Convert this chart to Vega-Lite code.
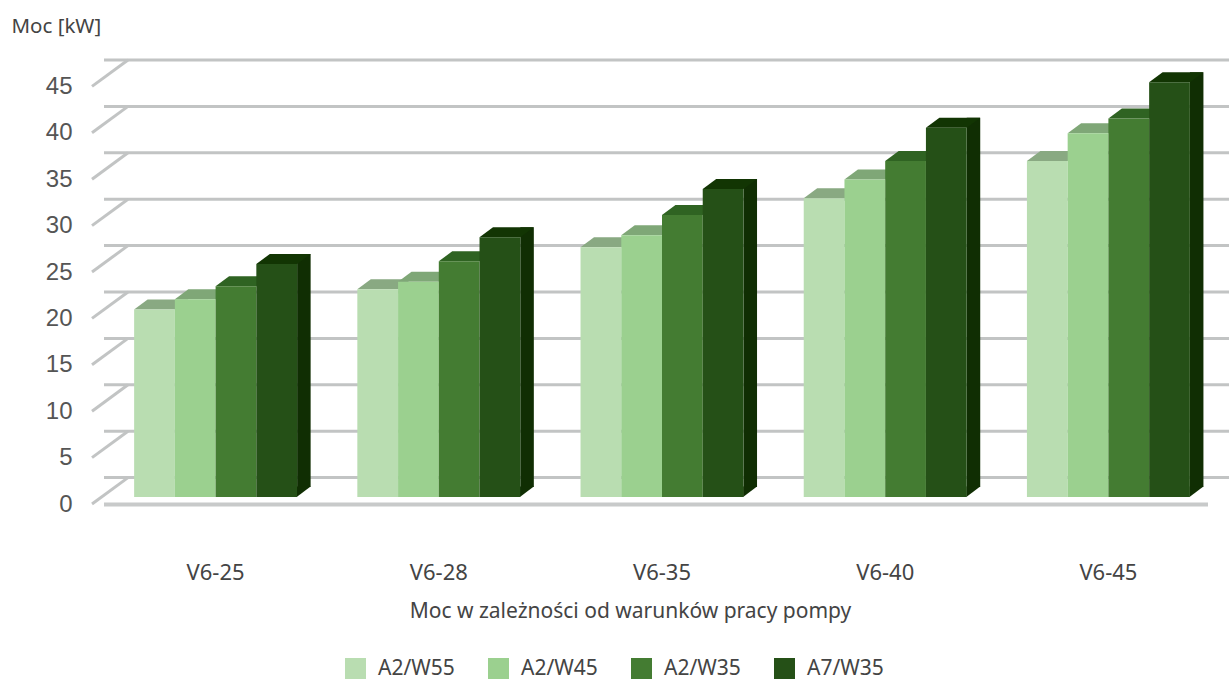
{
  "$schema": "https://vega.github.io/schema/vega-lite/v6.json",
  "width": 1116,
  "height": 464,
  "autosize": {"type": "none"},
  "padding": {"left": 104, "top": 33, "right": 9, "bottom": 184},
  "background": "white",
  "datasets": {
    "bars": [
      {"model": "V6-25", "series": "A2/W55", "power": 20.2},
      {"model": "V6-25", "series": "A2/W45", "power": 21.3},
      {"model": "V6-25", "series": "A2/W35", "power": 22.7},
      {"model": "V6-25", "series": "A7/W35", "power": 25.1},
      {"model": "V6-28", "series": "A2/W55", "power": 22.4},
      {"model": "V6-28", "series": "A2/W45", "power": 23.2},
      {"model": "V6-28", "series": "A2/W35", "power": 25.4},
      {"model": "V6-28", "series": "A7/W35", "power": 28.0},
      {"model": "V6-35", "series": "A2/W55", "power": 26.9},
      {"model": "V6-35", "series": "A2/W45", "power": 28.2},
      {"model": "V6-35", "series": "A2/W35", "power": 30.4},
      {"model": "V6-35", "series": "A7/W35", "power": 33.2},
      {"model": "V6-40", "series": "A2/W55", "power": 32.2},
      {"model": "V6-40", "series": "A2/W45", "power": 34.2},
      {"model": "V6-40", "series": "A2/W35", "power": 36.2},
      {"model": "V6-40", "series": "A7/W35", "power": 39.8},
      {"model": "V6-45", "series": "A2/W55", "power": 36.2},
      {"model": "V6-45", "series": "A2/W45", "power": 39.2},
      {"model": "V6-45", "series": "A2/W35", "power": 40.8},
      {"model": "V6-45", "series": "A7/W35", "power": 44.7}
    ],
    "levels": [
      {"level": 0}, {"level": 5}, {"level": 10}, {"level": 15}, {"level": 20},
      {"level": 25}, {"level": 30}, {"level": 35}, {"level": 40}, {"level": 45}
    ]
  },
  "config": {"view": {"stroke": null}},
  "layer": [
    {
      "data": {"name": "levels"},
      "mark": {"type": "rule", "color": "#c2c4c4", "strokeWidth": 3, "xOffset": 24, "x2Offset": 9, "yOffset": -19.4, "y2Offset": -19.4, "clip": false},
      "encoding": {
        "y": {
          "field": "level",
          "type": "quantitative",
          "scale": {"domain": [0, 50], "nice": false},
          "axis": {
            "values": [0, 5, 10, 15, 20, 25, 30, 35, 40, 45],
            "grid": false,
            "domain": false,
            "ticks": false,
            "labelFont": "Liberation Sans",
            "labelFontSize": 24,
            "labelColor": "#555555",
            "labelPadding": 32,
            "labelOffset": 7,
            "title": "Moc [kW]",
            "titleFont": "Noto Sans",
            "titleFontSize": 20.5,
            "titleFontWeight": "normal",
            "titleColor": "#444444",
            "titleAngle": 0,
            "titleAlign": "left",
            "titleBaseline": "alphabetic",
            "titleX": -93,
            "titleY": -1
          }
        }
      }
    },
    {
      "data": {"name": "levels"},
      "mark": {"type": "point", "shape": "M-123.6 7 L-87.6 -19.4", "size": 4, "filled": false, "stroke": "#c2c4c4", "strokeWidth": 3, "opacity": 1},
      "encoding": {
        "x": {"datum": "V6-25"},
        "y": {"field": "level", "type": "quantitative"}
      }
    },
    {
      "data": {"values": [{"level": 0}]},
      "mark": {"type": "rule", "color": "#c8caca", "strokeWidth": 4, "xOffset": -12, "x2Offset": -9, "yOffset": 7.5, "y2Offset": 7.5},
      "encoding": {"y": {"field": "level", "type": "quantitative"}}
    },
    {
      "data": {"name": "bars"},
      "transform": [{"filter": "datum.series === 'A7/W35'"}],
      "mark": {"type": "rule", "color": "#102e03", "strokeWidth": 13.5, "yOffset": -10, "y2Offset": -10},
      "encoding": {
        "x": {"field": "model", "type": "nominal"},
        "xOffset": {"value": 169.75},
        "y": {"field": "power", "type": "quantitative"},
        "y2": {"datum": 0}
      }
    },
    {
      "data": {"name": "bars"},
      "transform": [{"filter": "datum.series === 'A7/W35'"}],
      "mark": {"type": "point", "shape": "M20 -10.5 L20 0 L33.9 -10.5 Z", "size": 4, "filled": true, "fill": "#102e03", "opacity": 1},
      "encoding": {
        "x": {"field": "model", "type": "nominal"},
        "xOffset": {"field": "series", "type": "nominal"},
        "y": {"datum": 0}
      }
    },
    {
      "data": {"name": "bars"},
      "mark": {"type": "point", "shape": "M-20.4 0 L20.4 0 L33.9 -10 L-6.9 -10 Z", "size": 4, "filled": true, "opacity": 1},
      "encoding": {
        "x": {"field": "model", "type": "nominal"},
        "xOffset": {"field": "series", "type": "nominal"},
        "y": {"field": "power", "type": "quantitative"},
        "fill": {
          "field": "series",
          "type": "nominal",
          "scale": {"domain": ["A7/W35", "A2/W35", "A2/W45", "A2/W55"], "range": ["#123503", "#2f6322", "#7fa777", "#89a982"]},
          "legend": null
        }
      }
    },
    {
      "data": {"name": "bars"},
      "mark": {"type": "bar"},
      "encoding": {
        "x": {
          "field": "model",
          "type": "nominal",
          "scale": {"paddingInner": 0.27, "paddingOuter": 0.135},
          "axis": {
            "labelAngle": 0,
            "labelAlign": "center",
            "domain": false,
            "ticks": false,
            "labelFont": "Noto Sans",
            "labelFontSize": 22,
            "labelColor": "#444444",
            "labelPadding": 75,
            "title": "Moc w zależności od warunków pracy pompy",
            "titleFont": "Noto Sans",
            "titleFontSize": 21,
            "titleFontWeight": "normal",
            "titleColor": "#444444",
            "titleX": 526,
            "titleY": 103
          }
        },
        "xOffset": {"field": "series", "type": "nominal", "scale": {"domain": ["A2/W55", "A2/W45", "A2/W35", "A7/W35"], "paddingInner": 0, "paddingOuter": 0}},
        "y": {"field": "power", "type": "quantitative"},
        "color": {
          "field": "series",
          "type": "nominal",
          "scale": {"domain": ["A2/W55", "A2/W45", "A2/W35", "A7/W35"], "range": ["#b9ddb1", "#9bd08f", "#447c32", "#255017"]},
          "legend": {
            "title": null,
            "orient": "none",
            "direction": "horizontal",
            "columns": 4,
            "legendX": 241,
            "legendY": 625,
            "symbolType": "square",
            "symbolSize": 441,
            "symbolStrokeWidth": 0,
            "symbolOpacity": 1,
            "labelFont": "Noto Sans",
            "labelFontSize": 21,
            "labelColor": "#444444",
            "labelOffset": 12,
            "columnPadding": 33
          }
        }
      }
    }
  ]
}
